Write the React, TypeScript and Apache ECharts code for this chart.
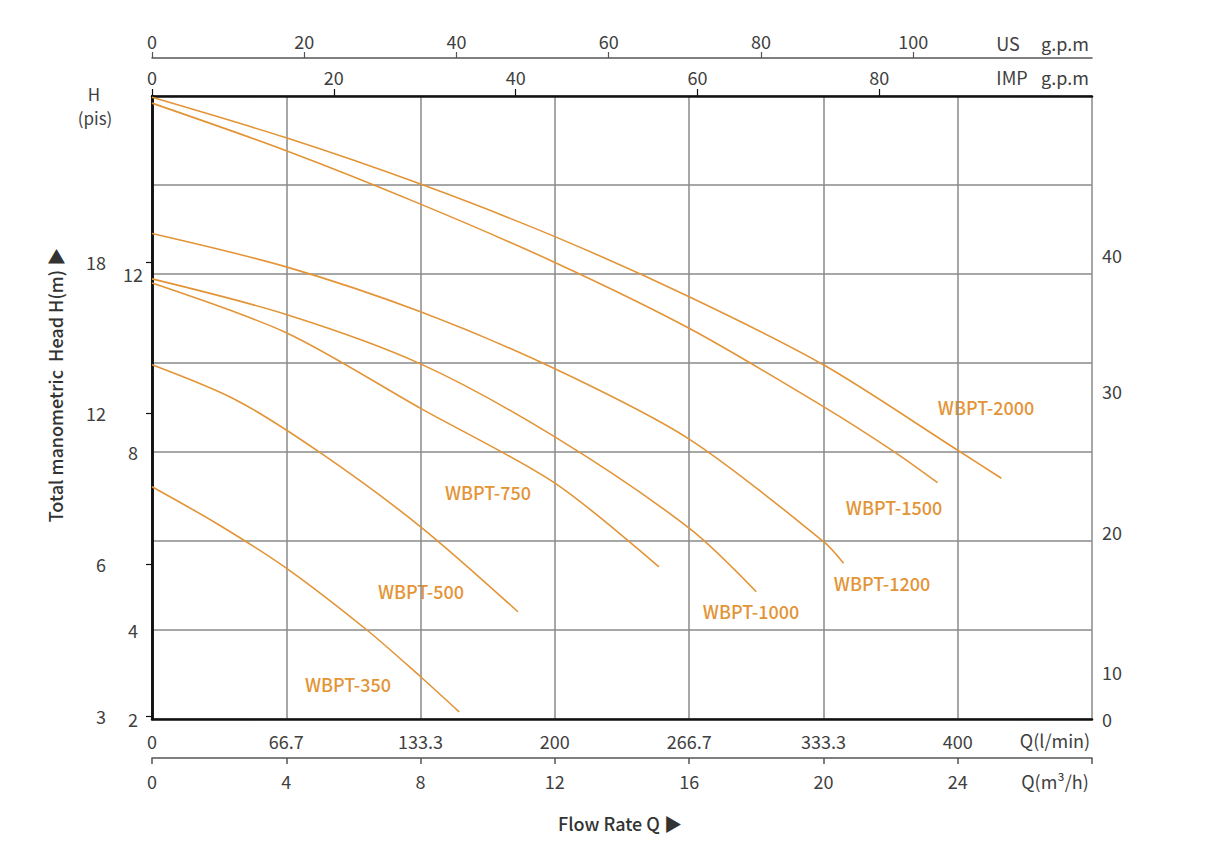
import React, { useEffect, useRef } from "react";
import * as echarts from "echarts";

// ---- data (flow Q in m³/h, head H in m) ----
const q2000 = [0, 4, 8, 12, 16, 20, 24, 25.3];
const h2000 = [15.97, 15.06, 14.02, 12.84, 11.49, 9.96, 8.04, 7.41];
const q1500 = [0, 4, 8, 12, 16, 20, 22.1, 23.4];
const h1500 = [15.84, 14.77, 13.57, 12.26, 10.78, 9.02, 8.01, 7.31];
const q1200 = [0, 4, 8, 12, 16, 20, 20.6];
const h1200 = [12.91, 12.16, 11.15, 9.87, 8.29, 5.99, 5.5];
const q1000 = [0, 4, 8, 12, 16, 18.0];
const h1000 = [11.89, 11.09, 9.98, 8.34, 6.29, 4.86];
const q750 = [0, 4, 8, 12, 15.1];
const h750 = [11.8, 10.68, 8.98, 7.3, 5.42];
const q500 = [0, 2.5, 5, 8, 10.9];
const h500 = [9.96, 9.17, 7.99, 6.32, 4.41];
const q350 = [0, 2, 4, 6.4, 8, 9.15];
const h350 = [7.22, 6.36, 5.39, 4.0, 2.95, 2.16];

const models = ["WBPT-2000", "WBPT-1500", "WBPT-1200", "WBPT-1000", "WBPT-750", "WBPT-500", "WBPT-350"];
const flows = [q2000, q1500, q1200, q1000, q750, q500, q350];
const heads = [h2000, h1500, h1200, h1000, h750, h500, h350];

// ---- tick labels ----
const m3hLabels = ["0", "4", "8", "12", "16", "20", "24", ""];
const lpmLabels = ["0", "66.7", "133.3", "200", "266.7", "333.3", "400", ""];
const impTicks = [0, 20, 40, 60, 80];
const usTicks = [0, 20, 40, 60, 80, 100];
const meterLabels = [2, 4, 8, 12];
const ftTickLabels = ["18", "12", "6", "3"];
const ftTickAt = [12.27, 8.88, 5.48, 2.07]; // position on meter scale
const rightTickLabels = ["40", "30", "20", "10", "0"];
const rightTickAt = [12.43, 9.36, 6.21, 3.06, 2.0]; // position on meter scale

const Q_MAX = 28;
const IMP_MAX = 103.4;
const US_MAX = 123.5;

const FONT = "'Noto Sans CJK SC', 'Noto Sans', sans-serif";
const ORANGE = "#e39436";
const TXT = "#404040";

// label placement (pixels)
const labelPos: Record<string, [number, number]> = {
  "WBPT-2000": [986, 407],
  "WBPT-1500": [894, 507],
  "WBPT-1200": [882, 583],
  "WBPT-1000": [751, 611],
  "WBPT-750": [488, 492],
  "WBPT-500": [421, 591],
  "WBPT-350": [348, 684],
};

export default function App() {
  const ref = useRef<HTMLDivElement>(null);
  useEffect(() => {
    if (!ref.current) return;
    const chart = echarts.init(ref.current, null, { renderer: "svg" });
    const labelStyle = { fontFamily: FONT, fontSize: 18, color: TXT };
    const txt = (text: string, x: number, y: number, extra: any = {}, styleExtra: any = {}) => ({
      type: "text",
      x,
      y,
      ...extra,
      style: {
        text,
        align: "center",
        verticalAlign: "middle",
        fontFamily: FONT,
        fontSize: 18,
        fill: TXT,
        ...styleExtra,
      },
    });

    const option: any = {
      animation: false,
      backgroundColor: "#fff",
      grid: { left: 152, top: 96, width: 940, height: 623, containLabel: false, outerBoundsMode: "none" },
      xAxis: [
        {
          type: "value",
          min: 0,
          max: Q_MAX,
          interval: 4,
          position: "bottom",
          axisLine: { show: true, lineStyle: { color: "#111", width: 2.5 } },
          axisTick: { show: false },
          splitLine: { show: true, lineStyle: { color: "#8a8a8a", width: 1.5 } },
          axisLabel: { ...labelStyle, margin: 13, formatter: (v: number) => lpmLabels[Math.round(v / 4)] ?? "" },
        },
        {
          type: "value",
          min: 0,
          max: Q_MAX,
          interval: 4,
          position: "bottom",
          offset: 39,
          axisLine: { show: true, lineStyle: { color: "#555", width: 1.5 } },
          axisTick: { show: true, length: 6, lineStyle: { color: "#555", width: 1.5 } },
          splitLine: { show: false },
          axisLabel: { ...labelStyle, margin: 14, formatter: (v: number) => m3hLabels[Math.round(v / 4)] ?? "" },
        },
        {
          type: "value",
          min: 0,
          max: IMP_MAX,
          position: "top",
          axisLine: { show: true, lineStyle: { color: "#111", width: 2.5 } },
          axisTick: { show: true, length: 7, customValues: impTicks, lineStyle: { color: "#111", width: 1.2 } },
          splitLine: { show: false },
          axisLabel: { ...labelStyle, margin: 10, customValues: impTicks },
        },
        {
          type: "value",
          min: 0,
          max: US_MAX,
          position: "top",
          offset: 38,
          axisLine: { show: true, lineStyle: { color: "#555", width: 1.5 } },
          axisTick: { show: true, length: 6, customValues: usTicks, lineStyle: { color: "#555", width: 1.2 } },
          splitLine: { show: false },
          axisLabel: { ...labelStyle, margin: 8, customValues: usTicks },
        },
      ],
      yAxis: [
        {
          type: "value",
          min: 2,
          max: 16,
          interval: 2,
          position: "left",
          axisLine: { show: true, lineStyle: { color: "#111", width: 2.5 } },
          axisTick: { show: false },
          splitLine: { show: true, lineStyle: { color: "#8a8a8a", width: 1.5 } },
          axisLabel: { ...labelStyle, margin: 19, align: "center", customValues: meterLabels },
        },
        {
          type: "value",
          min: 2,
          max: 16,
          position: "left",
          offset: 35,
          axisLine: { show: true, lineStyle: { color: "#111", width: 1.2 } },
          axisTick: { show: true, length: 6, customValues: ftTickAt, lineStyle: { color: "#111", width: 1.2 } },
          splitLine: { show: false },
          axisLabel: {
            ...labelStyle,
            margin: 11,
            customValues: ftTickAt,
            formatter: (v: number) => {
              const i = ftTickAt.findIndex((p) => Math.abs(p - v) < 1e-6);
              return i >= 0 ? ftTickLabels[i] : "";
            },
          },
        },
        {
          type: "value",
          min: 2,
          max: 16,
          position: "right",
          axisLine: { show: true, lineStyle: { color: "#111", width: 2.5 } },
          axisTick: { show: false },
          splitLine: { show: false },
          axisLabel: {
            ...labelStyle,
            margin: 10,
            customValues: rightTickAt,
            formatter: (v: number) => {
              const i = rightTickAt.findIndex((p) => Math.abs(p - v) < 1e-6);
              return i >= 0 ? rightTickLabels[i] : "";
            },
          },
        },
      ],
      series: models.map((name, i) => ({
        name,
        type: "line",
        xAxisIndex: 0,
        yAxisIndex: 0,
        data: flows[i].map((q, j) => [q, heads[i][j]]),
        smooth: 0.3,
        showSymbol: false,
        lineStyle: { color: ORANGE, width: 1.6 },
        itemStyle: { color: ORANGE },
        z: 3,
      })),
      graphic: [
        ...models.map((m) =>
          txt(m, labelPos[m][0], labelPos[m][1], {}, { fill: ORANGE, fontWeight: 500 })
        ),
        txt("US", 1008, 43),
        txt("g.p.m", 1065, 43),
        txt("IMP", 1012, 77),
        txt("g.p.m", 1065, 77),
        txt("Q(l/min)", 1055, 740),
        txt("Q(m³/h)", 1055, 781),
        txt("H", 94, 93, {}, { fontSize: 17, lineHeight: 19 }),
        txt("(pis)", 95, 117, {}, { fontSize: 17, lineHeight: 19 }),
        txt("Flow Rate Q ▶", 620, 823, {}, { fill: "#333", fontWeight: 500 }),
        txt("Total manometric  Head H(m) ▶", 55, 385, { rotation: Math.PI / 2 }, { fill: "#333", fontWeight: 500 }),
      ],
    };
    chart.setOption(option);
    return () => chart.dispose();
  }, []);
  return (
    <div
      ref={ref}
      style={{ position: "fixed", left: 0, top: 0, width: 1207, height: 857, background: "#fff" }}
    />
  );
}
